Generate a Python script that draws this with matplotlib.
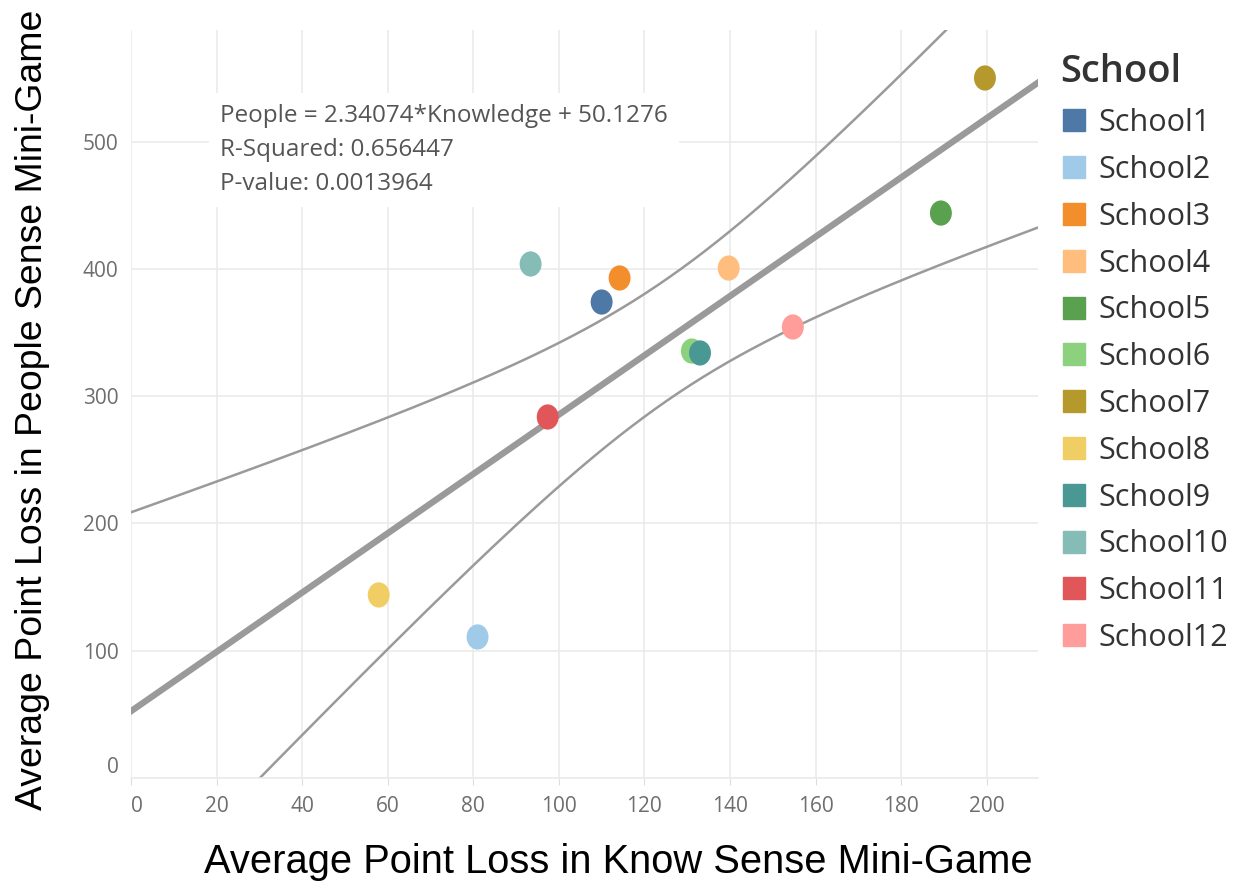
import numpy as np
import matplotlib
matplotlib.use("Agg")
import matplotlib.pyplot as plt
from matplotlib.path import Path
from matplotlib.transforms import Affine2D
from matplotlib.lines import Line2D

schools = ['School1', 'School2', 'School3', 'School4', 'School5', 'School6',
           'School7', 'School8', 'School9', 'School10', 'School11', 'School12']
know_loss = [110.0, 81.0, 114.2, 139.7, 189.3, 131.1, 199.6, 57.9, 133.0, 93.4, 97.4, 154.7]
people_loss = [373.9, 110.8, 392.8, 400.6, 443.8, 335.4, 549.9, 143.8, 333.9, 403.8, 283.6, 354.3]
colors = ['#4E79A7', '#A0CBE8', '#F28E2B', '#FFBE7D', '#59A14F', '#8CD17D',
          '#B6992D', '#F1CE63', '#499894', '#86BCB6', '#E15759', '#FF9D9A']

eq_lines = ['People = 2.34074*Knowledge + 50.1276',
            'R-Squared: 0.656447',
            'P-value: 0.0013964']

T_CRIT = 2.228  # t(0.975, df=10)

x = np.array(know_loss)
y = np.array(people_loss)
slope, icpt = np.polyfit(x, y, 1)
n = len(x)
s = np.sqrt(np.sum((y - (slope * x + icpt)) ** 2) / (n - 2))
sxx = np.sum((x - x.mean()) ** 2)
xx = np.linspace(-5, 220, 400)
fit = slope * xx + icpt
half = T_CRIT * s * np.sqrt(1 / n + (xx - x.mean()) ** 2 / sxx)

GRID = '#ebebeb'
LINE = '#9a9a9a'
TICK = '#6e6e6e'

fig = plt.figure(figsize=(12.37, 8.86), dpi=100)
ax = fig.add_axes([131 / 1237, 108 / 886, 907 / 1237, 748 / 886])

ax.plot(xx, fit, color=LINE, lw=4.6, solid_capstyle='butt', zorder=2)
ax.plot(xx, fit + half, color=LINE, lw=1.8, zorder=2)
ax.plot(xx, fit - half, color=LINE, lw=1.8, zorder=2)

ell = Path.unit_circle().transformed(Affine2D().scale(1.0, 1.15))
ax.scatter(x, y, s=330, c=colors, marker=ell, linewidths=0, zorder=3)

ax.set_xlim(0, 212)
ax.set_ylim(0, 587.6)
ax.set_xticks(np.arange(0, 201, 20))
ax.set_yticks(np.arange(0, 501, 100))
ax.grid(True, color=GRID, lw=1.2)
ax.set_axisbelow(True)
for sp in ['top', 'right', 'left']:
    ax.spines[sp].set_visible(False)
ax.spines['bottom'].set_color(GRID)
ax.spines['bottom'].set_linewidth(1.2)
ax.tick_params(axis='x', length=5, color='#dddddd', pad=8, labelsize=15, labelcolor=TICK)
ax.tick_params(axis='y', length=0, pad=9, labelsize=15, labelcolor=TICK)
for lab in ax.get_xticklabels() + ax.get_yticklabels():
    lab.set_fontfamily('Open Sans')
ax.get_xticklabels()[0].set_horizontalalignment('left')
ax.get_yticklabels()[0].set_verticalalignment('bottom')

fig.text(220 / 1237, 1 - 104 / 886, '\n'.join(eq_lines), ha='left', va='top',
         fontsize=17.5, color='#555555', family='Open Sans', linespacing=1.55,
         bbox=dict(facecolor='white', edgecolor='none', pad=8))

fig.text(618 / 1237, 1 - 862 / 886, 'Average Point Loss in Know Sense Mini-Game',
         ha='center', va='center', fontsize=28.7, family='Liberation Sans')
fig.text(33 / 1237, 1 - 410 / 886, 'Average Point Loss in People Sense Mini-Game',
         ha='center', va='center', rotation=90, fontsize=26.9, family='Liberation Sans')

handles = [Line2D([], [], marker='s', ls='none', markersize=16, color=c) for c in colors]
leg = fig.legend(handles, schools, loc='upper left', bbox_to_anchor=(1045 / 1237, 1 - 38 / 886),
                 frameon=False, title='School', alignment='left',
                 prop={'family': 'Open Sans', 'size': 22}, labelspacing=0.55,
                 handletextpad=0.35, handlelength=0.9, borderpad=0)
leg.get_title().set_fontsize(27.5)
leg.get_title().set_fontfamily('Open Sans')
leg.get_title().set_fontweight('semibold')
leg.get_title().set_color('#333333')
for t in leg.get_texts():
    t.set_color('#333333')

fig.savefig('out.png', dpi=100)
